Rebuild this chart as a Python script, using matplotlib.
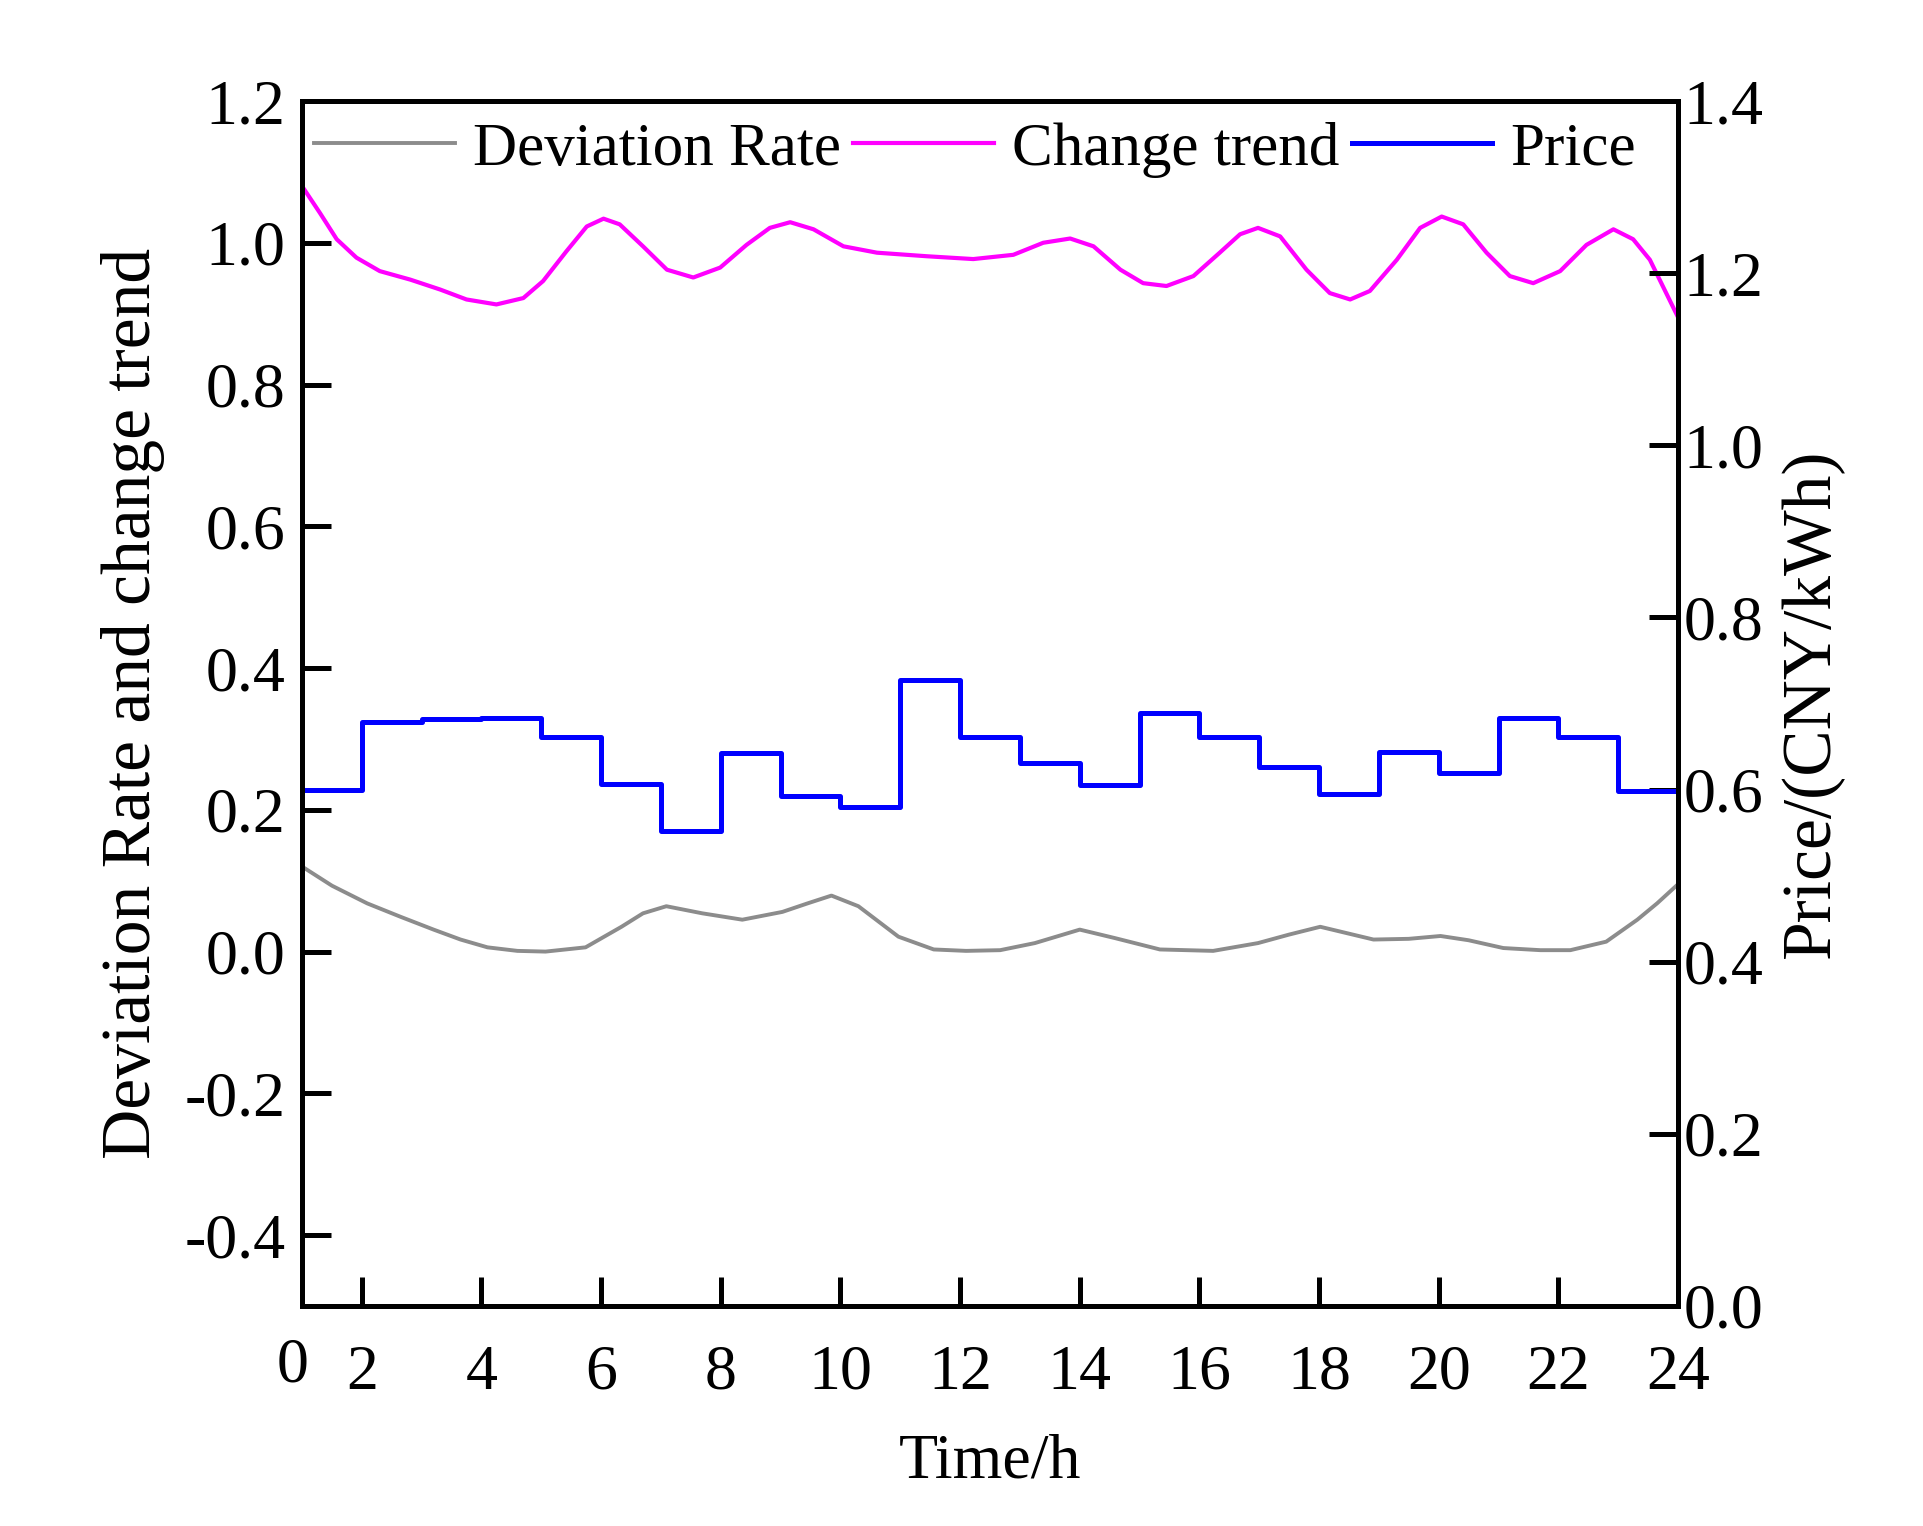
import matplotlib
matplotlib.use("Agg")
import matplotlib.pyplot as plt
from matplotlib.ticker import FormatStrFormatter

plt.rcParams['font.family'] = ['Liberation Serif', 'DejaVu Serif']
plt.rcParams['axes.unicode_minus'] = False

# ---- data ----
price_hours = list(range(1, 25))
price = [0.600, 0.678, 0.682, 0.683, 0.661, 0.607, 0.552, 0.643, 0.592, 0.580,
         0.727, 0.661, 0.631, 0.605, 0.689, 0.661, 0.626, 0.595, 0.644, 0.619,
         0.683, 0.661, 0.598, 0.598]

trend_t = [1.0, 1.30, 1.58, 1.91, 2.30, 2.81, 3.31, 3.75, 4.25, 4.70, 5.03, 5.42,
           5.76, 6.04, 6.31, 6.70, 7.10, 7.54, 7.99, 8.43, 8.82, 9.16, 9.55, 10.05,
           10.61, 11.44, 12.22, 12.89, 13.39, 13.84, 14.23, 14.68, 15.06, 15.45,
           15.90, 16.34, 16.68, 16.98, 17.35, 17.79, 18.18, 18.52, 18.85, 19.30,
           19.69, 20.05, 20.41, 20.80, 21.19, 21.58, 22.03, 22.47, 22.92, 23.25,
           23.53, 24.0]
trend = [1.080, 1.042, 1.005, 0.979, 0.960, 0.948, 0.934, 0.920, 0.913, 0.922,
         0.946, 0.988, 1.023, 1.034, 1.026, 0.995, 0.962, 0.951, 0.965, 0.997,
         1.021, 1.029, 1.019, 0.995, 0.986, 0.981, 0.977, 0.983, 1.000, 1.006,
         0.995, 0.962, 0.943, 0.939, 0.953, 0.986, 1.012, 1.021, 1.009, 0.962,
         0.929, 0.920, 0.932, 0.976, 1.021, 1.037, 1.026, 0.986, 0.953, 0.943,
         0.960, 0.997, 1.019, 1.005, 0.976, 0.895]

dev_t = [1.0, 1.5, 2.09, 2.65, 3.20, 3.65, 4.10, 4.6, 5.07, 5.74, 6.34, 6.7, 7.09,
         7.69, 8.36, 9.03, 9.45, 9.85, 10.30, 10.97, 11.56, 12.1, 12.67, 13.25,
         14.0, 14.59, 15.34, 16.23, 16.98, 17.5, 18.02, 18.91, 19.5, 20.03, 20.5,
         21.08, 21.7, 22.20, 22.80, 23.32, 23.65, 24.0]
dev = [0.120, 0.093, 0.068, 0.049, 0.031, 0.017, 0.006, 0.001, 0.000, 0.006, 0.035,
       0.054, 0.064, 0.054, 0.045, 0.056, 0.068, 0.079, 0.064, 0.021, 0.003, 0.001,
       0.002, 0.012, 0.031, 0.019, 0.003, 0.001, 0.012, 0.024, 0.035, 0.017, 0.018,
       0.022, 0.016, 0.005, 0.002, 0.002, 0.014, 0.045, 0.068, 0.095]

left_ticks = [-0.4, -0.2, 0.0, 0.2, 0.4, 0.6, 0.8, 1.0, 1.2]
right_ticks = [0.0, 0.2, 0.4, 0.6, 0.8, 1.0, 1.2, 1.4]
x_ticks = [2, 4, 6, 8, 10, 12, 14, 16, 18, 20, 22, 24]

FS = 46

fig = plt.figure(figsize=(19.24, 15.26), dpi=100)
ax = fig.add_axes([302/1924, 1-1306/1526, (1678-302)/1924, (1306-101)/1526])
ax2 = ax.twinx()

l1, = ax.plot(dev_t, dev, color='#8c8c8c', lw=2.8, label='Deviation Rate',
              solid_joinstyle='round')
l2, = ax.plot(trend_t, trend, color='#ff00ff', lw=3.0, label='Change trend',
              solid_joinstyle='round')
l3, = ax2.step(price_hours, price, where='post', color='#0000ff', lw=3.6, label='Price')

ax.set_xlim(1, 24)
ax.set_ylim(-0.5, 1.2)
ax2.set_ylim(0.0, 1.4)
ax.set_xticks(x_ticks)
ax.set_yticks(left_ticks)
ax2.set_yticks(right_ticks)
ax.yaxis.set_major_formatter(FormatStrFormatter('%.1f'))
ax2.yaxis.set_major_formatter(FormatStrFormatter('%.1f'))

for a in (ax, ax2):
    for s in a.spines.values():
        s.set_linewidth(3.6)
ax.tick_params(axis='both', direction='in', length=21, width=3.6, labelsize=FS)
ax.tick_params(axis='x', pad=28)
ax.tick_params(axis='y', pad=12)
ax2.tick_params(axis='y', direction='in', length=21, width=3.6, labelsize=FS, pad=4)

ax.set_xlabel('Time/h', fontsize=FS, labelpad=22)
ax.set_ylabel('Deviation Rate and change trend', fontsize=50, labelpad=14)
ax2.set_ylabel('Price/(CNY/kWh)', fontsize=50, labelpad=12)

ax.text(-0.007, -0.05, '0', transform=ax.transAxes, fontsize=FS, ha='center', va='center')

leg = ax.legend(handles=[l1, l2, l3], loc='upper left', bbox_to_anchor=(0.0, 0.993),
                ncol=3, frameon=False, fontsize=44, handlelength=2.3,
                handletextpad=0.3, columnspacing=0.2, borderaxespad=0.1, borderpad=0.1)

fig.savefig('out.png', dpi=100)
